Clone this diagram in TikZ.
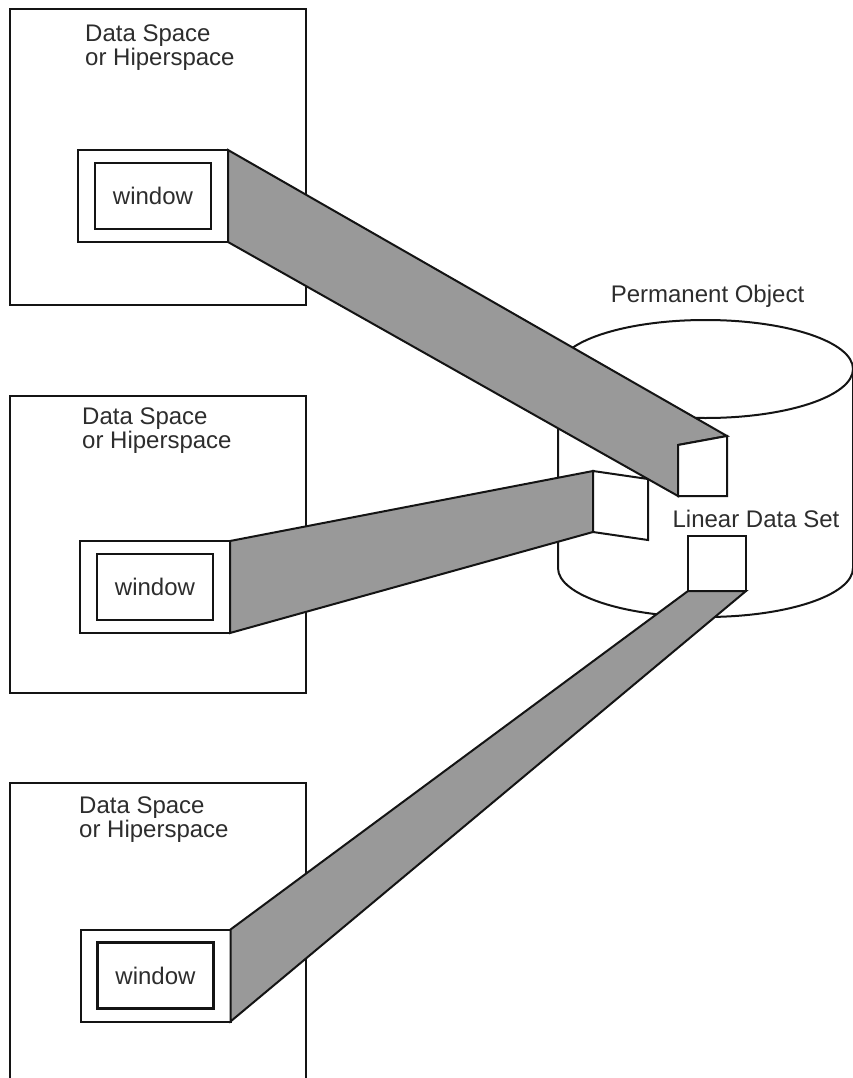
\documentclass[tikz,border=0pt]{standalone}
\usepackage{fontspec}
\setmainfont{Liberation Sans}
\usetikzlibrary{positioning}
\definecolor{inkdark}{RGB}{20,20,20}
\definecolor{textgray}{RGB}{45,45,45}
\definecolor{beamgray}{RGB}{153,153,153}

\begin{document}
\begin{tikzpicture}[
  x=1pt, y=-1pt,
  space/.style={rectangle, draw=inkdark, fill=white, line width=2pt,
                minimum width=296pt, outer sep=0pt, inner sep=0pt},
  win/.style={rectangle, draw=inkdark, fill=white, line width=2pt,
              minimum width=150pt, minimum height=92pt, outer sep=0pt},
  pane/.style={rectangle, draw=inkdark, line width=2.5pt, minimum width=116pt,
               minimum height=66pt, font=\fontsize{24}{24}\selectfont, text=textgray},
  beam/.style={draw=inkdark, fill=beamgray, line width=2pt},
  face/.style={draw=inkdark, fill=white, line width=2pt, outer sep=0pt},
  txt/.style={font=\fontsize{24}{23.5}\selectfont, text=textgray,
              inner sep=0pt, align=left},
]
  \useasboundingbox (0,0) rectangle (852,1078);

  % ── Data spaces / hiperspaces ──
  \node[space, minimum height=296pt] (ds1) at (158,157) {};
  \node[space, minimum height=297pt] (ds2) at (158,544.5) {};
  \node[space, minimum height=330pt] (ds3) at (158,948) {};

  % ── Windows ──
  \node[win] (w1) at (153,196) {};
  \node[pane] (p1) at (w1.center) {window};
  \node[win] (w2) at (155,587) {};
  \node[pane] (p2) at (w2.center) {window};
  \node[win] (w3) at (155.5,975.5) {};
  \node[pane] (p3) at (w3.center) {window};

  % ── Permanent object (cylinder) ──
  \fill[white] (558,369) -- (558,568)
    arc[start angle=180, end angle=0, x radius=147.5, y radius=49] -- (853,369) -- cycle;
  \draw[inkdark, line width=2pt] (558,369) -- (558,568)
    arc[start angle=180, end angle=0, x radius=147.5, y radius=49] -- (853,369);
  \draw[face] (705.5,369) ellipse[x radius=147.5, y radius=49];

  % ── End faces of the views ──
  \coordinate (f1tl) at (678,445);
  \coordinate (f1tr) at (727,436);
  \coordinate (f1br) at (727,496);
  \coordinate (f1bl) at (678,496);
  \coordinate (f2tl) at (593,471);
  \coordinate (f2tr) at (648,479);
  \coordinate (f2br) at (648,540);
  \coordinate (f2bl) at (593,532);

  % ── Views into the object ──
  \draw[beam] (w2.north east) -- (f2tl) -- (f2bl) -- (w2.south east) -- cycle;
  \draw[face] (f2tl) -- (f2tr) -- (f2br) -- (f2bl) -- cycle;

  \draw[beam] (w1.north east) -- (f1tr) -- (f1tl) -- (f1bl) -- (w1.south east) -- cycle;
  \draw[face] (f1tl) -- (f1tr) -- (f1br) -- (f1bl) -- cycle;

  \node[face, minimum width=58pt, minimum height=55pt] (sq) at (717,563.5) {};
  \draw[beam] (w3.north east) -- (sq.south west) -- (sq.south east) -- (w3.south east) -- cycle;

  % ── Labels ──
  \node[txt, anchor=north west] (t1) at (85,25) {Data Space\\or Hiperspace};
  \node[txt, anchor=north west] (t2) at (82,408) {Data Space\\or Hiperspace};
  \node[txt, anchor=north west] (t3) at (79,797) {Data Space\\or Hiperspace};
  \node[txt, anchor=base] (po) at (707.5,302) {Permanent Object};
  \node[txt, anchor=base] (lds) at (756,527) {Linear Data Set};
\end{tikzpicture}
\end{document}
